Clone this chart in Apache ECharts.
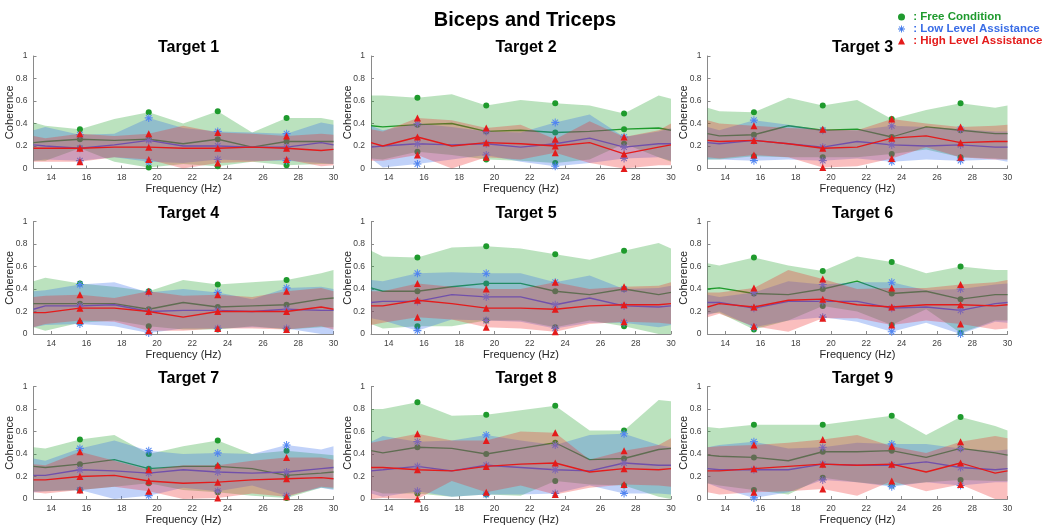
<!DOCTYPE html>
<html><head><meta charset="utf-8">
<script src="https://cdn.jsdelivr.net/npm/echarts@6/dist/echarts.min.js"></script>
<style>html,body{margin:0;padding:0;background:#fff}#c{width:1045px;height:527px}</style>
</head><body><div id="c"></div><script>
// ---------- data ----------
const freq = [13, 13.67, 15.63, 17.58, 19.53, 21.48, 23.44, 25.39, 27.34, 29.3, 30];
const markerIdx = [2, 4, 6, 8];
const xTicks = [14, 16, 18, 20, 22, 24, 26, 28, 30];
const yTicks = [0, 0.2, 0.4, 0.6, 0.8, 1];
const mainTitle = 'Biceps and Triceps';
const targetNames = ['Target 1','Target 2','Target 3','Target 4','Target 5','Target 6','Target 7','Target 8','Target 9'];
const conditionNames = ['Free Condition', 'Low Level Assistance', 'High Level Assistance'];

const T1_free_up   = [0.41,0.38,0.35,0.44,0.50,0.40,0.51,0.32,0.45,0.45,0.43];
const T1_free_mean = [0.23,0.24,0.26,0.25,0.26,0.22,0.26,0.19,0.24,0.24,0.24];
const T1_free_lo   = [0.07,0.07,0.18,0.06,0.01,0.04,0.02,0.06,0.03,0.04,0.04];
const T1_low_up    = [0.34,0.37,0.30,0.31,0.45,0.36,0.33,0.32,0.31,0.41,0.39];
const T1_low_mean  = [0.21,0.20,0.18,0.21,0.25,0.20,0.20,0.19,0.19,0.23,0.21];
const T1_low_lo    = [0.07,0.08,0.07,0.10,0.06,0.05,0.08,0.07,0.07,0.05,0.04];
const T1_high_up   = [0.29,0.27,0.31,0.29,0.31,0.38,0.32,0.31,0.29,0.31,0.30];
const T1_high_mean = [0.18,0.18,0.18,0.19,0.19,0.18,0.18,0.19,0.18,0.16,0.17];
const T1_high_lo   = [0.06,0.06,0.06,0.10,0.08,0.00,0.05,0.06,0.08,0.02,0.03];

const T2_free_up   = [0.65,0.65,0.63,0.66,0.56,0.61,0.58,0.56,0.49,0.65,0.62];
const T2_free_mean = [0.38,0.37,0.39,0.40,0.33,0.34,0.32,0.33,0.35,0.36,0.34];
const T2_free_lo   = [0.09,0.08,0.15,0.12,0.08,0.07,0.05,0.08,0.22,0.10,0.06];
const T2_low_up    = [0.38,0.34,0.40,0.37,0.33,0.32,0.41,0.48,0.28,0.33,0.36];
const T2_low_mean  = [0.19,0.20,0.22,0.21,0.22,0.19,0.22,0.27,0.19,0.22,0.22];
const T2_low_lo    = [0.09,0.01,0.04,0.08,0.12,0.06,0.02,0.05,0.09,0.10,0.07];
const T2_high_up   = [0.35,0.33,0.45,0.43,0.36,0.39,0.26,0.42,0.28,0.34,0.40];
const T2_high_mean = [0.23,0.20,0.28,0.20,0.23,0.22,0.20,0.23,0.13,0.19,0.21];
const T2_high_lo   = [0.07,0.07,0.12,0.00,0.10,0.08,0.14,0.05,0.00,0.03,0.03];

const T3_free_up   = [0.54,0.51,0.50,0.63,0.56,0.61,0.44,0.52,0.58,0.54,0.56];
const T3_free_mean = [0.31,0.29,0.30,0.38,0.34,0.35,0.28,0.37,0.34,0.31,0.31];
const T3_free_lo   = [0.08,0.08,0.11,0.10,0.10,0.10,0.13,0.17,0.10,0.09,0.08];
const T3_low_up    = [0.37,0.34,0.43,0.39,0.34,0.34,0.38,0.37,0.35,0.33,0.33];
const T3_low_mean  = [0.23,0.22,0.25,0.22,0.19,0.24,0.21,0.20,0.21,0.19,0.19];
const T3_low_lo    = [0.08,0.08,0.07,0.08,0.07,0.09,0.06,0.08,0.07,0.08,0.06];
const T3_high_up   = [0.43,0.40,0.38,0.36,0.35,0.34,0.44,0.40,0.37,0.38,0.39];
const T3_high_mean = [0.25,0.24,0.25,0.22,0.18,0.19,0.27,0.29,0.23,0.24,0.24];
const T3_high_lo   = [0.10,0.09,0.12,0.10,0.01,0.02,0.09,0.19,0.10,0.08,0.08];

const T4_free_up   = [0.47,0.50,0.45,0.42,0.38,0.48,0.44,0.46,0.48,0.54,0.57];
const T4_free_mean = [0.27,0.27,0.27,0.27,0.22,0.28,0.24,0.25,0.26,0.31,0.32];
const T4_free_lo   = [0.06,0.03,0.10,0.12,0.07,0.04,0.04,0.07,0.04,0.06,0.06];
const T4_low_up    = [0.38,0.39,0.44,0.46,0.37,0.40,0.37,0.31,0.41,0.42,0.40];
const T4_low_mean  = [0.22,0.25,0.25,0.26,0.20,0.21,0.21,0.20,0.22,0.21,0.21];
const T4_low_lo    = [0.06,0.08,0.09,0.07,0.01,0.05,0.05,0.06,0.05,0.00,0.00];
const T4_high_up   = [0.33,0.34,0.35,0.32,0.38,0.34,0.35,0.33,0.38,0.41,0.38];
const T4_high_mean = [0.19,0.19,0.23,0.23,0.20,0.15,0.20,0.20,0.20,0.24,0.22];
const T4_high_lo   = [0.06,0.09,0.12,0.11,0.03,0.03,0.05,0.05,0.04,0.07,0.04];

const T5_free_up   = [0.74,0.69,0.68,0.77,0.78,0.76,0.71,0.66,0.74,0.81,0.76];
const T5_free_mean = [0.41,0.38,0.38,0.42,0.45,0.45,0.38,0.35,0.40,0.35,0.37];
const T5_free_lo   = [0.09,0.05,0.07,0.07,0.12,0.12,0.06,0.12,0.07,0.00,0.00];
const T5_low_up    = [0.48,0.47,0.54,0.55,0.54,0.54,0.46,0.52,0.40,0.41,0.43];
const T5_low_mean  = [0.28,0.29,0.29,0.35,0.33,0.33,0.26,0.32,0.25,0.24,0.25];
const T5_low_lo    = [0.14,0.12,0.03,0.13,0.12,0.11,0.05,0.10,0.10,0.06,0.08];
const T5_high_up   = [0.38,0.38,0.45,0.42,0.40,0.40,0.46,0.40,0.42,0.43,0.46];
const T5_high_mean = [0.25,0.25,0.30,0.27,0.23,0.23,0.22,0.25,0.26,0.26,0.27];
const T5_high_lo   = [0.08,0.10,0.15,0.13,0.06,0.05,0.02,0.09,0.11,0.10,0.09];

const T6_free_up   = [0.63,0.61,0.68,0.61,0.56,0.69,0.64,0.54,0.60,0.57,0.57];
const T6_free_mean = [0.40,0.41,0.36,0.35,0.40,0.47,0.36,0.38,0.31,0.35,0.35];
const T6_free_lo   = [0.18,0.19,0.04,0.12,0.25,0.20,0.08,0.22,0.01,0.12,0.12];
const T6_low_up    = [0.35,0.33,0.37,0.47,0.44,0.46,0.46,0.39,0.40,0.44,0.45];
const T6_low_mean  = [0.28,0.28,0.23,0.29,0.29,0.29,0.23,0.24,0.21,0.27,0.28];
const T6_low_lo    = [0.17,0.20,0.06,0.12,0.15,0.11,0.02,0.10,0.00,0.11,0.10];
const T6_high_up   = [0.37,0.37,0.41,0.57,0.49,0.40,0.41,0.41,0.44,0.46,0.48];
const T6_high_mean = [0.24,0.27,0.24,0.30,0.31,0.26,0.24,0.26,0.26,0.25,0.26];
const T6_high_lo   = [0.15,0.18,0.07,0.02,0.14,0.14,0.08,0.12,0.09,0.04,0.05];

const T7_free_up   = [0.46,0.45,0.53,0.57,0.40,0.47,0.52,0.40,0.43,0.40,0.39];
const T7_free_mean = [0.29,0.28,0.31,0.35,0.27,0.29,0.29,0.27,0.21,0.23,0.24];
const T7_free_lo   = [0.07,0.07,0.08,0.11,0.14,0.08,0.06,0.03,0.01,0.10,0.09];
const T7_low_up    = [0.36,0.34,0.45,0.52,0.43,0.40,0.41,0.40,0.48,0.44,0.47];
const T7_low_mean  = [0.21,0.21,0.26,0.25,0.23,0.26,0.24,0.23,0.24,0.27,0.28];
const T7_low_lo    = [0.06,0.07,0.08,0.00,0.03,0.10,0.07,0.12,0.03,0.10,0.08];
const T7_high_up   = [0.31,0.30,0.42,0.34,0.26,0.30,0.30,0.34,0.37,0.37,0.35];
const T7_high_mean = [0.17,0.17,0.20,0.21,0.16,0.14,0.15,0.17,0.18,0.19,0.18];
const T7_high_lo   = [0.06,0.05,0.08,0.11,0.07,0.00,0.01,0.05,0.02,0.11,0.10];

const T8_free_up   = [0.80,0.80,0.86,0.74,0.75,0.79,0.83,0.61,0.61,0.88,0.87];
const T8_free_mean = [0.43,0.41,0.46,0.45,0.40,0.45,0.50,0.35,0.36,0.44,0.45];
const T8_free_lo   = [0.08,0.05,0.05,0.02,0.04,0.03,0.16,0.13,0.12,0.02,0.00];
const T8_low_up    = [0.51,0.56,0.51,0.52,0.57,0.52,0.48,0.57,0.58,0.48,0.46];
const T8_low_mean  = [0.25,0.26,0.29,0.25,0.30,0.28,0.26,0.25,0.32,0.30,0.30];
const T8_low_lo    = [0.05,0.02,0.07,0.02,0.04,0.04,0.05,0.12,0.05,0.05,0.04];
const T8_high_up   = [0.50,0.52,0.58,0.52,0.52,0.60,0.59,0.35,0.43,0.48,0.54];
const T8_high_mean = [0.28,0.28,0.26,0.25,0.29,0.31,0.32,0.24,0.27,0.26,0.27];
const T8_high_lo   = [0.00,0.01,0.00,0.16,0.06,0.12,0.04,0.10,0.13,0.12,0.11];

const T9_free_up   = [0.64,0.63,0.66,0.66,0.66,0.70,0.74,0.57,0.73,0.65,0.61];
const T9_free_mean = [0.39,0.38,0.37,0.34,0.42,0.42,0.43,0.37,0.45,0.41,0.39];
const T9_free_lo   = [0.14,0.12,0.08,0.04,0.19,0.15,0.12,0.15,0.17,0.16,0.16];
const T9_low_up    = [0.46,0.48,0.51,0.45,0.46,0.50,0.49,0.49,0.45,0.43,0.44];
const T9_low_mean  = [0.27,0.26,0.26,0.26,0.31,0.30,0.30,0.33,0.28,0.26,0.27];
const T9_low_lo    = [0.14,0.10,0.01,0.06,0.17,0.15,0.11,0.15,0.12,0.15,0.15];
const T9_high_up   = [0.46,0.47,0.48,0.50,0.53,0.57,0.47,0.41,0.51,0.56,0.54];
const T9_high_mean = [0.25,0.25,0.27,0.29,0.31,0.30,0.31,0.24,0.32,0.23,0.25];
const T9_high_lo   = [0.06,0.04,0.06,0.07,0.09,0.03,0.16,0.07,0.13,0.00,0.00];

// ---------- assemble ----------
const panels = [
  [[T1_free_up,T1_free_mean,T1_free_lo],[T1_low_up,T1_low_mean,T1_low_lo],[T1_high_up,T1_high_mean,T1_high_lo]],
  [[T2_free_up,T2_free_mean,T2_free_lo],[T2_low_up,T2_low_mean,T2_low_lo],[T2_high_up,T2_high_mean,T2_high_lo]],
  [[T3_free_up,T3_free_mean,T3_free_lo],[T3_low_up,T3_low_mean,T3_low_lo],[T3_high_up,T3_high_mean,T3_high_lo]],
  [[T4_free_up,T4_free_mean,T4_free_lo],[T4_low_up,T4_low_mean,T4_low_lo],[T4_high_up,T4_high_mean,T4_high_lo]],
  [[T5_free_up,T5_free_mean,T5_free_lo],[T5_low_up,T5_low_mean,T5_low_lo],[T5_high_up,T5_high_mean,T5_high_lo]],
  [[T6_free_up,T6_free_mean,T6_free_lo],[T6_low_up,T6_low_mean,T6_low_lo],[T6_high_up,T6_high_mean,T6_high_lo]],
  [[T7_free_up,T7_free_mean,T7_free_lo],[T7_low_up,T7_low_mean,T7_low_lo],[T7_high_up,T7_high_mean,T7_high_lo]],
  [[T8_free_up,T8_free_mean,T8_free_lo],[T8_low_up,T8_low_mean,T8_low_lo],[T8_high_up,T8_high_mean,T8_high_lo]],
  [[T9_free_up,T9_free_mean,T9_free_lo],[T9_low_up,T9_low_mean,T9_low_lo],[T9_high_up,T9_high_mean,T9_high_lo]]
];

const FONT = '"Liberation Sans", Arial, Helvetica, sans-serif';
const colLeft = [33.5, 371, 707.5];
const rowTop = [56, 221.5, 386.5];
const gW = 300, gH = 112.5;
const ASTER = 'path://M-10,-1.3H10V1.3H-10Z M-1.3,-10H1.3V10H-1.3Z M-7.9,-6.1L-6.1,-7.9L7.9,6.1L6.1,7.9Z M-7.9,6.1L6.1,-7.9L7.9,-6.1L-6.1,7.9Z';
const style = [
  {line:'#1f9a2e', mark:'#1f9a2e', band:'rgba(30,160,40,0.30)', symbol:'circle', size:6},
  {line:'#3f5fe0', mark:'#5a8cf2', band:'rgba(50,105,235,0.30)', symbol:ASTER, size:8},
  {line:'#e41b1b', mark:'#e41b1b', band:'rgba(238,40,40,0.30)', symbol:'triangle', size:7}
];

const grids = [], xAxes = [], yAxes = [], series = [], titles = [];
titles.push({text: mainTitle, left: 520, top: 5, textAlign: 'center',
  textStyle: {fontFamily: FONT, fontSize: 20, fontWeight: 'bold', color: '#000'}});

function lineData(arr){ return freq.map((x,k)=>[x, arr[k]]); }
function markData(c){ const out=[]; markerIdx.forEach(k=>{ out.push([freq[k],c[0][k]],[freq[k],c[1][k]],[freq[k],c[2][k]]); }); return out; }
function bandSeries(i, c, color, z){
  return {type:'custom', xAxisIndex:i, yAxisIndex:i, z:z, silent:true, data:[[freq[0], c[2][0]]],
    renderItem: function(p, api){
      const poly=[];
      for (let k=0;k<freq.length;k++) poly.push(api.coord([freq[k], c[0][k]]));
      for (let k=freq.length-1;k>=0;k--) poly.push(api.coord([freq[k], c[2][k]]));
      return {type:'polygon', shape:{points:poly}, style:{fill:color}};
    }};
}

panels.forEach((p, i) => {
  const col = i % 3, row = Math.floor(i / 3);
  grids.push({left: colLeft[col], top: rowTop[row], width: gW, height: gH, containLabel: false, outerBoundsMode: 'none'});
  titles.push({text: targetNames[i], left: colLeft[col] + gW/2, top: rowTop[row] - 21, textAlign: 'center',
    textStyle: {fontFamily: FONT, fontSize: 16, fontWeight: 'bold', color: '#000'}});
  xAxes.push({type:'value', gridIndex:i, min:13, max:30,
    name:'Frequency (Hz)', nameLocation:'middle', nameGap:15, nameMoveOverlap:false,
    nameTextStyle:{fontFamily:FONT, fontSize:11, color:'#262626'},
    axisLine:{show:true, onZero:false, lineStyle:{color:'#8a8a8a', width:1}},
    axisTick:{show:true, inside:true, length:3, customValues:xTicks, lineStyle:{color:'#8a8a8a'}},
    axisLabel:{customValues:xTicks, fontFamily:FONT, fontSize:8.5, color:'#404040', margin:5},
    splitLine:{show:false}});
  yAxes.push({type:'value', gridIndex:i, min:0, max:1, interval:0.2,
    name:'Coherence', nameLocation:'middle', nameGap:18, nameMoveOverlap:false,
    nameTextStyle:{fontFamily:FONT, fontSize:11, color:'#262626'},
    axisLine:{show:true, onZero:false, lineStyle:{color:'#8a8a8a', width:1}},
    axisTick:{show:true, inside:true, length:3, customValues:yTicks, lineStyle:{color:'#8a8a8a'}},
    axisLabel:{customValues:yTicks, fontFamily:FONT, fontSize:8.5, color:'#404040', margin:6},
    splitLine:{show:false}});
  let z = 2;
  p.forEach((c, ci) => {
    const s = style[ci];
    const lineS = {type:'line', name: conditionNames[ci] + ' mean', xAxisIndex:i, yAxisIndex:i, z:0, data: lineData(c[1]),
      showSymbol:false, silent:true, lineStyle:{color:s.line, width:1.3}};
    const markS = {type:'scatter', name: conditionNames[ci], xAxisIndex:i, yAxisIndex:i, z:0, data: markData(c),
      symbol:s.symbol, symbolSize:s.size, silent:true, itemStyle:{color:s.mark, opacity:1}};
    const bandS = bandSeries(i, c, s.band, 0);
    let order;
    if (ci < 2) order = [lineS, markS, bandS]; else order = [bandS, lineS, markS];
    order.forEach(o => { o.z = z++; series.push(o); });
  });
});

const legendIcons = ['circle', ASTER, 'triangle'];
const legendColors = ['#1f9a2e', '#3f78ea', '#e41b1b'];
const legendTextColors = ['#1f9a2e', '#3a6de6', '#e41b1b'];

const chart = echarts.init(document.getElementById('c'), null, {renderer:'canvas'});
chart.setOption({
  animation:false,
  backgroundColor:'#fff',
  title: titles,
  legend: {orient:'vertical', left:893, top:6, itemGap:0, itemWidth:7, itemHeight:7,
    selectedMode:false,
    formatter: name => ' : ' + name,
    textStyle:{fontFamily:FONT, fontSize:11.5, fontWeight:'bold', lineHeight:11, padding:0},
    data: conditionNames.map((n,k)=>({name:n, icon:legendIcons[k], itemStyle:{color:legendColors[k]},
      textStyle:{color:legendTextColors[k], fontFamily:FONT, fontSize:11.5, fontWeight:'bold'}}))},
  grid: grids, xAxis: xAxes, yAxis: yAxes, series: series
});
</script></body></html>
